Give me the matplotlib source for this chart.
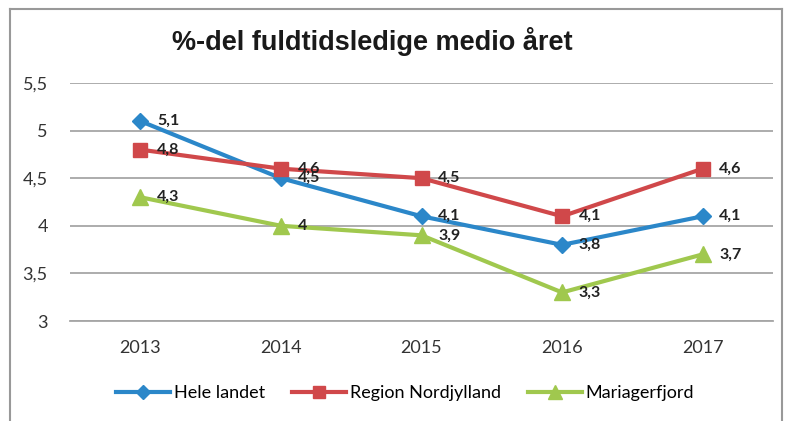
import matplotlib
matplotlib.use("Agg")
import matplotlib.pyplot as plt
from matplotlib.lines import Line2D

years = ["2013", "2014", "2015", "2016", "2017"]
hele_landet = [5.1, 4.5, 4.1, 3.8, 4.1]
region_nordjylland = [4.8, 4.6, 4.5, 4.1, 4.6]
mariagerfjord = [4.3, 4.0, 3.9, 3.3, 3.7]
series_names = ["Hele landet", "Region Nordjylland", "Mariagerfjord"]
title = "%-del fuldtidsledige medio året"

colors = ["#2B87C9", "#D0484A", "#A0C84E"]
markers = ["D", "s", "^"]
msizes = [8, 10, 11]

def fmt(v):
    s = ("%g" % v).replace(".", ",")
    return s

fig = plt.figure(figsize=(7.85, 4.21), dpi=100)
ax = fig.add_axes([70/785, 1-321/421, (773-70)/785, (321-83)/421])

x = list(range(len(years)))
data = [hele_landet, region_nordjylland, mariagerfjord]
for i, (vals, name) in enumerate(zip(data, series_names)):
    ax.plot(x, vals, color=colors[i], marker=markers[i], markersize=msizes[i],
            linewidth=3, label=name, zorder=3+i, solid_joinstyle="round")
for i, vals in enumerate(data):
    for xi, v in zip(x, vals):
        ax.annotate(fmt(v), (xi, v), xytext=(12, 0), textcoords="offset points",
                    ha="left", va="center", fontsize=11.5, fontweight="bold",
                    family="Lato", color="#222222", zorder=10)

ax.set_xlim(-0.5, len(years)-0.5)
ax.set_ylim(3, 5.5)
yt = [3, 3.5, 4, 4.5, 5, 5.5]
ax.set_yticks(yt)
ax.set_yticklabels([fmt(v) for v in yt], family="Lato", fontsize=13, color="#333333")
ax.set_xticks(x)
ax.set_xticklabels(years, family="Lato", fontsize=13, color="#333333")
ax.tick_params(axis="both", length=0)
ax.tick_params(axis="y", pad=16)
ax.tick_params(axis="x", pad=14)
ax.grid(axis="y", color="#A6A6A6", linewidth=1.3)
ax.set_axisbelow(True)
for s in ["top", "right", "left"]:
    ax.spines[s].set_visible(False)
ax.spines["bottom"].set_color("#A6A6A6")
ax.spines["bottom"].set_linewidth(1.3)
ax.spines["bottom"].set_zorder(0)

fig.text(372/785, 1-42/421, title, ha="center", va="center",
         fontsize=19.5, fontweight="bold", family="Liberation Sans", color="#1a1a1a")

handles = [Line2D([0], [0], color=colors[i], marker=markers[i], markersize=msizes[i]-1,
                  linewidth=3) for i in range(3)]
fig.legend(handles, series_names, loc="center", bbox_to_anchor=(405/785, 1-393/421),
           ncol=3, frameon=False, prop={"family": "Lato", "size": 13},
           handlelength=3, handletextpad=0.2, columnspacing=1.5)

# outer frame
for coords in [([10/785, 10/785], [0, 1-9/421]), ([10/785, 782/785], [1-9/421, 1-9/421]),
               ([782/785, 782/785], [0, 1-9/421])]:
    fig.add_artist(Line2D(coords[0], coords[1], color="#999999", linewidth=1.5))

fig.savefig("out.png", dpi=100, facecolor="white")
